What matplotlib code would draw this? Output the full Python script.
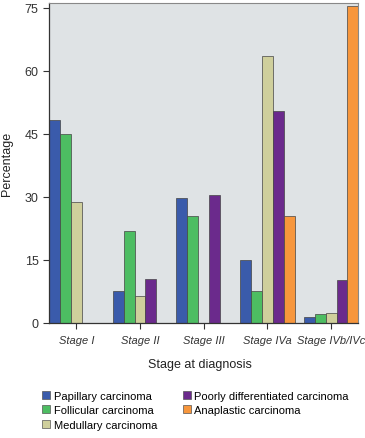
import numpy as np
import matplotlib
matplotlib.use("Agg")
import matplotlib.pyplot as plt
from matplotlib.patches import Patch

stages = ["Stage I", "Stage II", "Stage III", "Stage IVa", "Stage IVb/IVc"]
series = [
    "Papillary carcinoma",
    "Follicular carcinoma",
    "Medullary carcinoma",
    "Poorly differentiated carcinoma",
    "Anaplastic carcinoma",
]
papillary = [48.4, 7.5, 29.6, 14.9, 1.3]
follicular = [44.9, 21.8, 25.3, 7.6, 2.0]
medullary = [28.8, 6.4, 0.0, 63.6, 2.2]
poorly = [0.0, 10.3, 30.4, 50.5, 10.2]
anaplastic = [0.0, 0.0, 0.0, 25.4, 75.5]
yticks = [0, 15, 30, 45, 60, 75]

colors = ["#3a5bab", "#4dbd62", "#cfcf9c", "#6b2a8c", "#f7963c"]
values = [papillary, follicular, medullary, poorly, anaplastic]

plt.rcParams["font.family"] = ["Liberation Sans", "DejaVu Sans"]

fig = plt.figure(figsize=(3.65, 4.39), dpi=100)
ax = fig.add_axes([0.134, 0.263, 0.848, 0.728])
ax.set_facecolor("#dfe3e5")

x = np.arange(len(stages))
w = 0.172
for i, (vals, c) in enumerate(zip(values, colors)):
    ax.bar(x + (i - 2) * w, vals, width=w, color=c, edgecolor="#444444",
           linewidth=0.5, zorder=2)

ax.set_xlim(-0.43, 4.43)
ax.set_ylim(0, 76.2)
ax.set_yticks(yticks)
ax.set_xticks(x)
ax.set_xticklabels(stages, fontstyle="italic", fontsize=8)
ax.tick_params(axis="y", labelsize=9, length=4, width=0.8, colors="#333333")
ax.tick_params(axis="x", length=4, width=0.8, colors="#333333", pad=5)
for s in ["left", "bottom"]:
    ax.spines[s].set_color("#333333")
    ax.spines[s].set_linewidth(0.9)
for s in ["top", "right"]:
    ax.spines[s].set_color("#888888")
    ax.spines[s].set_linewidth(0.8)

ax.set_ylabel("Percentage", fontsize=9, color="#222222", labelpad=8)
fig.text(0.548, 0.168, "Stage at diagnosis", fontsize=9, ha="center",
         va="center", color="#222222")

handles = [Patch(facecolor=c, edgecolor="#555555", linewidth=0.5) for c in colors]
leg = fig.legend(handles, series,
                 loc="upper left", bbox_to_anchor=(0.115, 0.108), ncol=2,
                 frameon=False, fontsize=8, handlelength=0.75, handleheight=0.75,
                 handletextpad=0.3, columnspacing=2.3, labelspacing=0.42,
                 borderaxespad=0, borderpad=0)

fig.savefig("out.png", dpi=100)
